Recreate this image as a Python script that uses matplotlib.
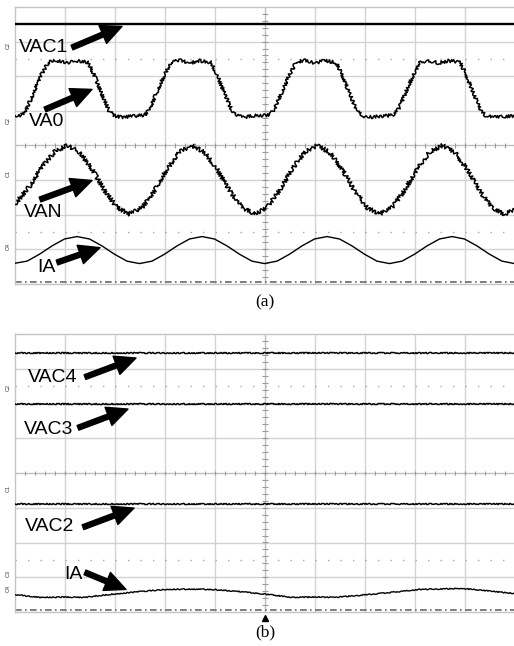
import matplotlib
matplotlib.use("Agg")
import matplotlib.pyplot as plt
import numpy as np

# ---------------- data (divisions; x 0..10, y -4..4) ----------------
# panel (a)
vac1_level = 3.50

va0_x = [0.00, 0.13, 0.23, 0.38, 0.53, 0.66, 0.83, 1.03, 1.23, 1.46, 1.58, 1.73, 1.88, 1.98, 2.13,
         2.31,
         2.59, 2.69, 2.84, 2.99, 3.12, 3.29, 3.49, 3.69, 3.92, 4.04, 4.19, 4.34, 4.44, 4.59,
         4.79,
         5.09, 5.19, 5.34, 5.49, 5.62, 5.79, 5.99, 6.19, 6.42, 6.54, 6.69, 6.84, 6.94, 7.09,
         7.28,
         7.57, 7.67, 7.82, 7.97, 8.10, 8.27, 8.47, 8.67, 8.90, 9.02, 9.17, 9.32, 9.42, 9.57,
         9.77, 10.0]
va0_y = [0.86, 0.88, 1.05, 1.55, 2.05, 2.40, 2.46, 2.38, 2.45, 2.40, 2.05, 1.50, 1.00, 0.86, 0.82,
         0.84,
         0.88, 1.05, 1.55, 2.05, 2.40, 2.46, 2.38, 2.45, 2.40, 2.05, 1.50, 1.00, 0.86, 0.82,
         0.86,
         0.88, 1.05, 1.55, 2.05, 2.40, 2.47, 2.38, 2.45, 2.40, 2.05, 1.50, 1.00, 0.86, 0.82,
         0.84,
         0.88, 1.05, 1.55, 2.05, 2.40, 2.46, 2.38, 2.45, 2.40, 2.05, 1.50, 1.00, 0.86, 0.82,
         0.84, 0.86]

van_x = [0.00, 0.04, 0.29, 0.54, 0.79, 1.04, 1.29, 1.54, 1.79, 2.04, 2.29,
         2.54, 2.79, 3.04, 3.29, 3.54, 3.79, 4.04, 4.29, 4.54, 4.79,
         5.04, 5.29, 5.54, 5.79, 6.04, 6.29, 6.54, 6.79, 7.04, 7.29,
         7.54, 7.79, 8.04, 8.29, 8.54, 8.79, 9.04, 9.29, 9.54, 9.79, 10.0]
van_y = [-1.70, -1.62, -1.18, -0.62, -0.18, 0.00, -0.19, -0.68, -1.30, -1.79, -1.98,
         -1.79, -1.30, -0.68, -0.19, 0.00, -0.19, -0.68, -1.30, -1.79, -1.98,
         -1.79, -1.30, -0.68, -0.19, 0.00, -0.19, -0.68, -1.30, -1.79, -1.98,
         -1.79, -1.30, -0.68, -0.19, 0.00, -0.19, -0.68, -1.30, -1.79, -1.98, -1.86]

ia_a_x = [0.00, 0.24, 0.49, 0.74, 0.99, 1.24, 1.49, 1.74, 1.99, 2.24, 2.49,
          2.74, 2.99, 3.24, 3.49, 3.74, 3.99, 4.24, 4.49, 4.74, 4.99,
          5.24, 5.49, 5.74, 5.99, 6.24, 6.49, 6.74, 6.99, 7.24, 7.49,
          7.74, 7.99, 8.24, 8.49, 8.74, 8.99, 9.24, 9.49, 9.74, 9.99]
ia_a_y = [-3.40, -3.34, -3.14, -2.90, -2.70, -2.63, -2.70, -2.90, -3.14, -3.34, -3.41,
          -3.34, -3.14, -2.90, -2.70, -2.63, -2.70, -2.90, -3.14, -3.34, -3.41,
          -3.34, -3.14, -2.90, -2.70, -2.63, -2.70, -2.90, -3.14, -3.34, -3.41,
          -3.34, -3.14, -2.90, -2.70, -2.63, -2.70, -2.90, -3.14, -3.34, -3.41]

# panel (b)
vac4_level = 3.44
vac3_level = 1.99
vac2_level = -0.90
ia_b_x = [0.00, 0.50, 1.00, 1.40, 1.60, 2.00, 2.60, 3.04, 3.50, 3.90, 4.40, 4.90,
          5.56, 6.00, 6.40, 6.90, 7.50, 8.10, 8.50, 8.94, 9.50, 10.0]
ia_b_y = [-3.50, -3.58, -3.57, -3.58, -3.54, -3.48, -3.40, -3.35, -3.34, -3.35, -3.40, -3.47,
          -3.58, -3.57, -3.58, -3.52, -3.44, -3.35, -3.34, -3.32, -3.40, -3.47]

labels_a = ["VAC1", "VA0", "VAN", "IA"]
labels_b = ["VAC4", "VAC3", "VAC2", "IA"]
chan_a = ["C2", "C2", "C1", "C4"]
chan_b = ["C2", "C1", "C3", "C4"]

# ---------------- figure ----------------
W, H = 514, 646
fig = plt.figure(figsize=(W / 100, H / 100), dpi=100)
fig.patch.set_facecolor("white")

SANS = ["Liberation Sans", "DejaVu Sans"]
SERIF = ["Liberation Serif", "DejaVu Serif"]


def make_axes(top_px, bot_px):
    left_px, right_px = 15, 515
    ax = fig.add_axes([left_px / W, 1 - bot_px / H, (right_px - left_px) / W, (bot_px - top_px) / H])
    ax.set_xlim(0, 10)
    ax.set_ylim(-4, 4)
    ax.set_xticks([])
    ax.set_yticks([])
    for s in ax.spines.values():
        s.set_color("#c4c4c4")
        s.set_linewidth(1.0)
    grid_c = "#d2d2d2"
    for gx in range(1, 10):
        if gx != 5:
            ax.axvline(gx, color=grid_c, lw=1.0, zorder=0)
    for gy in range(-3, 4):
        if gy != 0:
            ax.axhline(gy, color=grid_c, lw=1.0, zorder=0)
    # centre axes with fine ticks
    ax.axhline(0, color="#bdbdbd", lw=1.0, zorder=0)
    ax.axvline(5, color="#bdbdbd", lw=1.0, zorder=0)
    tx = np.arange(0.2, 10, 0.2)
    ax.vlines(tx, -0.07, 0.07, color="#9a9a9a", lw=0.8, zorder=0)
    ty = np.arange(-3.8, 4, 0.2)
    ax.hlines(ty, 4.94, 5.06, color="#9a9a9a", lw=0.8, zorder=0)
    # dotted reference lines
    for ry in (2.5, -2.5):
        ax.axhline(ry, color="#a8a8a8", lw=1.0, ls=(0, (1, 8)), zorder=0)
    # bottom dash-dot marker line
    ax.axhline(-3.95, color="#6a6a6a", lw=1.2, ls=(0, (4, 2, 1, 2)), zorder=1)
    return ax


def noisy(line, scale, length, rnd):
    line.set_sketch_params(scale=scale, length=length, randomness=rnd)


def arrow(ax, x0, y0, x1, y1):
    ax.annotate("", xy=(x1, y1), xytext=(x0, y0),
                arrowprops=dict(facecolor="black", edgecolor="black", width=3.6,
                                headwidth=14, headlength=15, shrink=0),
                zorder=5)


def chan_label(ax, y, txt):
    ax.text(-0.14, y, txt, rotation=90, fontsize=4, ha="center", va="center",
            family=SANS, color="#333333", clip_on=False)


# ---------- panel (a) ----------
axa = make_axes(7, 284)
axa.plot([0, 10], [vac1_level, vac1_level], color="black", lw=1.7, zorder=3)
l = axa.plot(va0_x, va0_y, color="black", lw=1.1, zorder=3)[0]
noisy(l, 1.6, 2.0, 3)
l = axa.plot(van_x, van_y, color="black", lw=1.1, zorder=3)[0]
noisy(l, 2.0, 2.0, 3)
axa.plot(ia_a_x, ia_a_y, color="black", lw=1.0, zorder=3)

fs = 14
axa.text(0.57, 2.83, labels_a[0], fontsize=fs, family=SANS, ha="center", va="center", zorder=6)
arrow(axa, 1.14, 2.83, 2.14, 3.44)
axa.text(0.63, 0.70, labels_a[1], fontsize=fs, family=SANS, ha="center", va="center", zorder=6)
arrow(axa, 0.60, 1.04, 1.54, 1.62)
axa.text(0.57, -1.94, labels_a[2], fontsize=fs, family=SANS, ha="center", va="center", zorder=6)
arrow(axa, 0.50, -1.56, 1.54, -1.01)
axa.text(0.62, -3.53, labels_a[3], fontsize=fs, family=SANS, ha="center", va="center", zorder=6)
arrow(axa, 0.84, -3.38, 1.70, -2.95)

for y, t in zip([2.89, 0.72, -0.81, -2.92], chan_a):
    chan_label(axa, y, t)

fig.text(265 / W, 1 - 302 / H, "(a)", fontsize=12.5, family=SERIF, ha="center", va="center")

# ---------- panel (b) ----------
axb = make_axes(334, 612)
for lev in (vac4_level, vac3_level, vac2_level):
    l = axb.plot([0, 10], [lev, lev], color="black", lw=1.1, zorder=3)[0]
    noisy(l, 0.6, 3.0, 3)
l = axb.plot(ia_b_x, ia_b_y, color="black", lw=1.0, zorder=3)[0]
noisy(l, 0.5, 3.0, 3)

axb.text(0.76, 2.76, labels_b[0], fontsize=fs, family=SANS, ha="center", va="center", zorder=6)
arrow(axb, 1.40, 2.76, 2.42, 3.31)
axb.text(0.68, 1.24, labels_b[1], fontsize=fs, family=SANS, ha="center", va="center", zorder=6)
arrow(axb, 1.26, 1.30, 2.26, 1.84)
axb.text(0.70, -1.53, labels_b[2], fontsize=fs, family=SANS, ha="center", va="center", zorder=6)
arrow(axb, 1.36, -1.56, 2.38, -1.01)
axb.text(1.16, -2.92, labels_b[3], fontsize=fs, family=SANS, ha="center", va="center", zorder=6)
arrow(axb, 1.40, -2.86, 2.22, -3.35)

for y, t in zip([2.46, -0.46, -2.89, -3.32], chan_b):
    chan_label(axb, y, t)

# trigger marker
axb.plot([5], [-4.17], marker="^", color="black", ms=4, clip_on=False, zorder=6)

fig.text(265 / W, 1 - 632 / H, "(b)", fontsize=12.5, family=SERIF, ha="center", va="center")

fig.savefig("out.png", dpi=100, facecolor="white")
